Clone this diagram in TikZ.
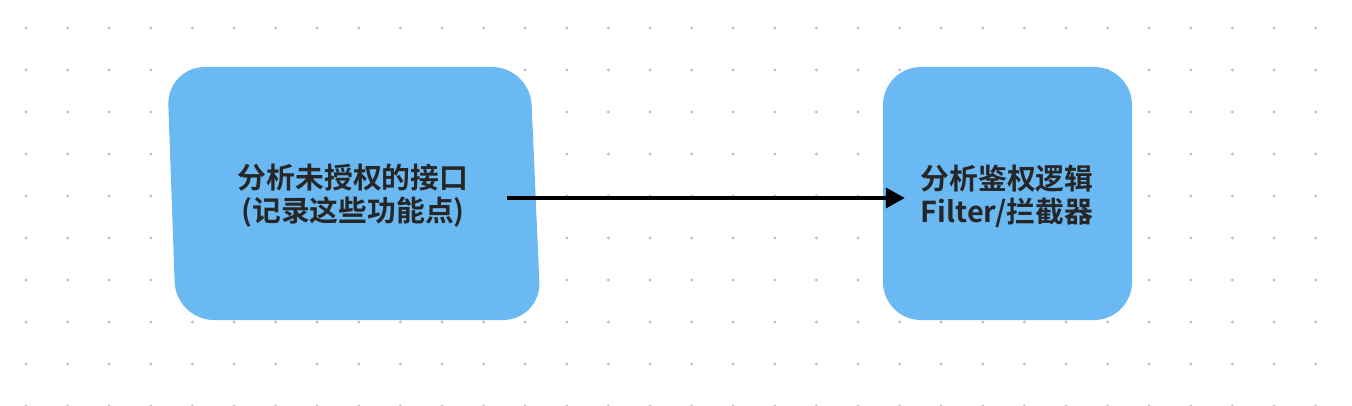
\documentclass[tikz,border=0pt]{standalone}
\usepackage{fontspec}
\newfontfamily\cjk{Noto Sans CJK SC}[BoldFont={Noto Sans CJK SC Bold}]
\usetikzlibrary{arrows.meta}
\definecolor{boxblue}{RGB}{107,185,243}
\definecolor{dotgray}{RGB}{185,185,185}
\tikzset{
  boxlabel/.style={align=center,font=\cjk\bfseries\fontsize{28.8}{33}\selectfont,text=black!85,inner sep=0pt},
  boxfill/.style={fill=boxblue,draw=none,rounded corners=38pt},
  flow/.style={line width=3.6pt,-{Triangle[length=19pt,width=20pt]}},
}
\begin{document}
\begin{tikzpicture}[x=1pt,y=-1pt]
\useasboundingbox[fill=white] (0,0) rectangle (1352,406);
% dot grid
\foreach \i in {0,...,31}{
  \foreach \j in {0,...,9}{
    \fill[dotgray] (26+41.6*\i,28+42*\j) circle (1.5pt);
  }
}
% left box (slightly skewed)
\path[boxfill] (167,67) -- (530,67) -- (541,320) -- (176,320) -- cycle;
\coordinate (lboxeast) at (535.5,198);
\node[boxlabel] (ltext) at (353,196) {分析未授权的接口\\(记录这些功能点)};
% right box
\node[boxfill,minimum width=249pt,minimum height=253pt,inner sep=0pt] (rbox) at (1007.5,193.5) {};
\node[boxlabel] (rtext) at (1007,196) {分析鉴权逻辑\\Filter/拦截器};
\coordinate (rin) at (rbox.west |- lboxeast);
\draw[flow] ([xshift=-29pt]lboxeast) -- ([xshift=22pt]rin);
\end{tikzpicture}
\end{document}
